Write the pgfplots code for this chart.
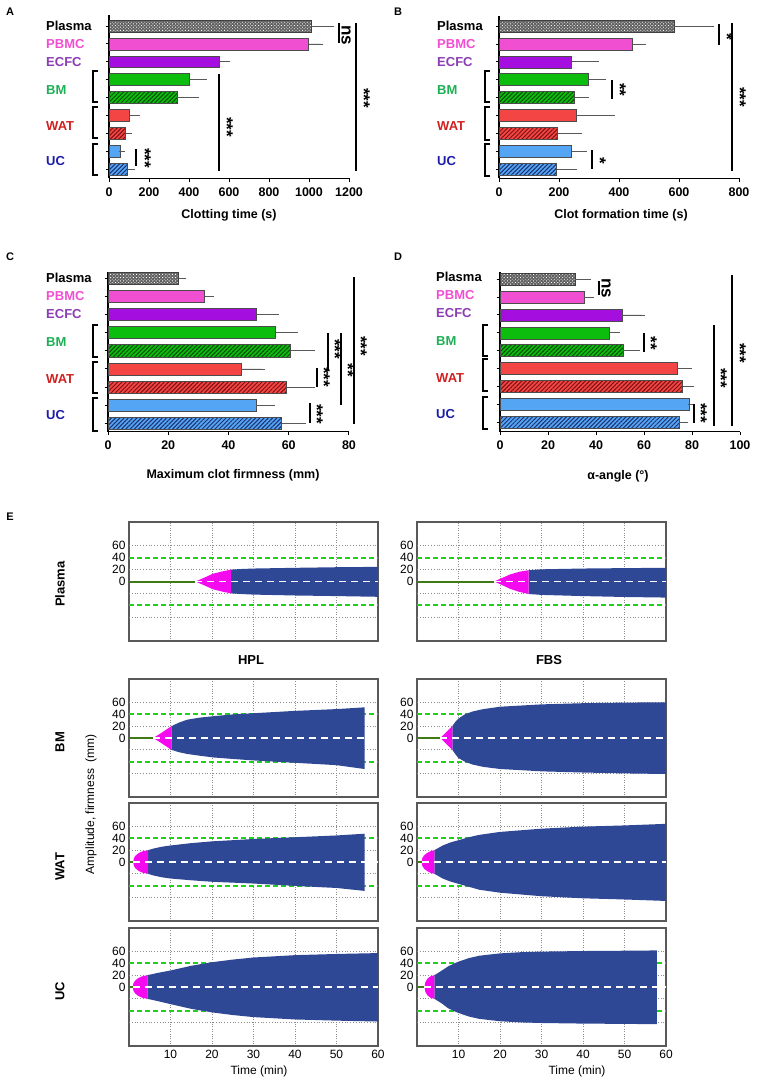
\documentclass[border=0pt]{standalone}
\usepackage{fontspec}
\setmainfont{Liberation Sans}
\usepackage{pgfplots}
\pgfplotsset{compat=1.18}
\usepackage{pgfplotstable}
\usetikzlibrary{patterns,patterns.meta}

\definecolor{cPBMC}{HTML}{F04FD2}
\definecolor{cECFC}{HTML}{A40FE0}
\definecolor{cBM}{HTML}{0DBD0D}
\definecolor{cBMd}{HTML}{0A4A0A}
\definecolor{cWAT}{HTML}{F44545}
\definecolor{cWATd}{HTML}{7A1010}
\definecolor{cUC}{HTML}{55A5F5}
\definecolor{cUCd}{HTML}{1B2F6E}
\definecolor{lPBMC}{HTML}{F04FD2}
\definecolor{lECFC}{HTML}{8B3DB5}
\definecolor{lBM}{HTML}{1EB054}
\definecolor{lWAT}{HTML}{D21F1F}
\definecolor{lUC}{HTML}{1C1CA8}
\definecolor{tegblue}{HTML}{2F4895}
\definecolor{tegmag}{HTML}{F50AF0}
\definecolor{teggreen}{HTML}{3F7A12}
\definecolor{gridgreen}{HTML}{1FD01F}

\newcommand{\lab}[1]{\fontsize{#1}{#1}\selectfont}

% bar data: p = row position (8 = Plasma at top), v = mean, e = error
\pgfplotstableread{
p v e
8 1012 100
7 998 59
6 553 39
5 400 73
4 342 95
3 102 40
2 82 16
1 58 9
0 93 20
}\tA
\pgfplotstableread{
p v e
8 584 124
7 445 36
6 242 80
5 299 46
4 250 39
3 259 118
2 195 71
1 242 42
0 192 58
}\tB
\pgfplotstableread{
p v e
8 23.5 1.4
7 32.1 2.0
6 49.3 6.4
5 55.7 6.3
4 60.6 7.2
3 44.1 6.9
2 59.3 8.5
1 49.1 5.4
0 57.6 7.0
}\tC
\pgfplotstableread{
p v e
8 31.4 5.3
7 35.0 2.8
6 50.8 8.4
5 45.7 3.1
4 51.4 5.5
3 73.9 4.7
2 76.1 3.3
1 78.8 0.9
0 74.6 2.6
}\tD

\pgfplotsset{
  b0/.style={fill=black!62, draw=black!75, line width=0.6pt, bar shift=0pt,
    postaction={pattern={Dots[distance=2.3pt,radius=0.6pt,angle=45]}, pattern color=white}},
  b1/.style={fill=cPBMC, draw=black!70, line width=0.6pt, bar shift=0pt},
  b2/.style={fill=cECFC, draw=black!70, line width=0.6pt, bar shift=0pt},
  b3/.style={fill=cBM, draw=black!70, line width=0.6pt, bar shift=0pt},
  b4/.style={fill=cBM, draw=black!70, line width=0.6pt, bar shift=0pt,
    postaction={pattern={Lines[angle=45,distance=3pt,line width=1pt]}, pattern color=cBMd}},
  b5/.style={fill=cWAT, draw=black!70, line width=0.6pt, bar shift=0pt},
  b6/.style={fill=cWAT, draw=black!70, line width=0.6pt, bar shift=0pt,
    postaction={pattern={Lines[angle=45,distance=3pt,line width=1pt]}, pattern color=cWATd}},
  b7/.style={fill=cUC, draw=black!70, line width=0.6pt, bar shift=0pt},
  b8/.style={fill=cUC, draw=black!70, line width=0.6pt, bar shift=0pt,
    postaction={pattern={Lines[angle=45,distance=3pt,line width=1pt]}, pattern color=cUCd}},
  barax/.style={
    scale only axis, anchor=south west, xbar, bar shift=0pt, bar width=0.67,
    ytick={0,...,8}, yticklabels={},
    axis x line*=bottom, axis y line*=left,
    axis line style={line width=1.2pt, black},
    tick align=outside, major tick length=3.5pt,
    tick style={line width=1pt, black},
    ticklabel style={font=\bfseries\lab{12.5}},
    xticklabel style={yshift=-2pt},
    /pgf/number format/assume math mode=true,
    /pgf/number format/1000 sep={},
    error bars/x dir=plus, error bars/x explicit,
    error bars/error bar style={black!65, line width=0.8pt},
    error bars/error mark options={black!65, line width=0.8pt, mark size=3pt},
  },
  teg/.style={
    scale only axis, anchor=south west, width=249pt, height=118pt,
    xmin=0, xmax=60, ymin=-100, ymax=100,
    xtick={10,20,...,60}, ytick={0,20,40,60},
    major tick length=0pt,
    axis line style={black!65, line width=1.2pt},
    xmajorgrids, grid style={black!45, dotted, line width=0.8pt},
    ticklabel style={font=\lab{12}},
    xticklabel style={yshift=-1pt},
    /pgf/number format/assume math mode=true,
  },
  nox/.style={xticklabels={}},
}

\newcommand{\bars}[1]{%
  \pgfplotsinvokeforeach{0,...,8}{%
    \addplot[b##1] table[x=v, y=p, x error=e,
      restrict expr to domain={\coordindex}{##1:##1}] {#1};}}

\newcommand{\grouplabels}[7]{%
  \node[anchor=west] at (#1,#2) {Plasma};
  \node[anchor=west,text=lPBMC] at (#1,#3) {PBMC};
  \node[anchor=west,text=lECFC] at (#1,#4) {ECFC};
  \node[anchor=west,text=lBM] at (#1,#5) {BM};
  \node[anchor=west,text=lWAT] at (#1,#6) {WAT};
  \node[anchor=west,text=lUC] at (#1,#7) {UC};}
\newcommand{\brk}[3]{\draw[line width=1.2pt] (#1+5,#2) -- (#1,#2) -- (#1,#3) -- (#1+5,#3);}
\newcommand{\sig}[6]{\draw[line width=1.3pt] (#1,#2) -- (#1,#3);
  \node[rotate=-90, font=\bfseries\lab{17}] at (#5,#6) {#4};}

\newcommand{\teggrid}{%
  \draw[black!45, dotted, line width=0.8pt] (0,60) -- (60,60) (0,20) -- (60,20)
    (0,-20) -- (60,-20) (0,-60) -- (60,-60);
  \draw[gridgreen, line width=1.9pt, dash pattern=on 5pt off 3pt]
    (0,40) -- (60,40) (0,-40) -- (60,-40);}
\newcommand{\tegtrace}[1]{%
  \draw[white, line width=1.3pt, dash pattern=on 7pt off 5pt] (#1,0) -- (60,0);
  \addplot[teggreen, line width=2pt] coordinates {(0,0) (#1,0)};}

\begin{document}
\begin{tikzpicture}
\path (0,0) rectangle (756pt,-1081pt);

% ---------- A ----------
\begin{axis}[barax, at={(109pt,-178.3pt)}, width=240pt, height=163.3pt,
  xmin=0, xmax=1200, xtick={0,200,...,1200}, ymin=-0.52, ymax=8.62]
\bars{\tA}
\end{axis}
% ---------- B ----------
\begin{axis}[barax, at={(499pt,-178.3pt)}, width=240pt, height=162.3pt,
  xmin=0, xmax=800, xtick={0,200,...,800}, ymin=-0.52, ymax=8.57]
\bars{\tB}
\end{axis}
% ---------- C ----------
\begin{axis}[barax, at={(108pt,-431.7pt)}, width=241pt, height=160pt,
  xmin=0, xmax=80, xtick={0,20,...,80}, ymin=-0.46, ymax=8.36]
\bars{\tC}
\end{axis}
% ---------- D ----------
\begin{axis}[barax, at={(500pt,-431.7pt)}, width=240pt, height=160pt,
  xmin=0, xmax=100, xtick={0,20,...,100}, ymin=-0.53, ymax=8.42]
\bars{\tD}
\end{axis}

% ---------- E : Plasma ----------
\begin{axis}[teg, nox, at={(129pt,-641pt)}, height=119pt]
\teggrid
\addplot[fill=tegblue, draw=none] coordinates {(24.6,20) (27,21) (30,21.8) (40,23) (50,24) (60,24.6)
  (60,-25.7) (50,-24.5) (40,-23.5) (30,-22) (27,-21) (24.6,-20)} -- cycle;
\addplot[fill=tegmag, draw=none] coordinates {(16,0) (18,6) (20.2,13) (22.5,17) (24.6,20)
  (24.6,-20) (22.5,-17) (20.2,-13) (18,-6)} -- cycle;
\tegtrace{16}
\end{axis}
\begin{axis}[teg, nox, at={(417pt,-641pt)}, height=119pt]
\teggrid
\addplot[fill=tegblue, draw=none] coordinates {(26.9,19) (30,20.5) (40,21.8) (50,22.5) (60,23)
  (60,-27) (50,-26) (40,-24.5) (30,-22.5) (26.9,-21)} -- cycle;
\addplot[fill=tegmag, draw=none] coordinates {(18.6,0) (20.5,6) (22.5,12) (24.7,16.5) (26.9,19)
  (26.9,-21) (24.7,-17.5) (22.5,-12.5) (20.5,-6)} -- cycle;
\tegtrace{18.6}
\end{axis}
% ---------- E : BM ----------
\begin{axis}[teg, nox, at={(129pt,-797pt)}]
\teggrid
\addplot[fill=tegblue, draw=none] coordinates {(10.2,20) (12,26) (14,31) (17,34.5) (20.4,37) (25,40)
  (30,42) (40,46) (50,49) (56.8,52) (56.8,-52.6) (50,-46) (40,-42) (30,-38) (25,-35.5)
  (20.4,-33) (17,-30) (14,-27) (12,-24) (10.2,-20)} -- cycle;
\addplot[fill=tegmag, draw=none] coordinates {(5.8,0) (7,5) (8.5,12) (10.2,20)
  (10.2,-20) (8.5,-12) (7,-5)} -- cycle;
\tegtrace{5.8}
\end{axis}
\begin{axis}[teg, nox, at={(417pt,-797pt)}]
\teggrid
\addplot[fill=tegblue, draw=none] coordinates {(8.5,20) (9.2,27) (10,33) (11.5,40) (13.4,45) (16,49)
  (20,53) (30,57) (40,59) (50,60) (60,60.6) (60,-61) (50,-60) (40,-58.5) (30,-56.5)
  (20,-52.5) (16,-49) (13.4,-45) (11.5,-40) (10,-34) (9.2,-27) (8.5,-20)} -- cycle;
\addplot[fill=tegmag, draw=none] coordinates {(5.6,0) (6.5,6) (7.5,13) (8.5,20)
  (8.5,-20) (7.5,-13) (6.5,-6)} -- cycle;
\tegtrace{5.6}
\end{axis}
% ---------- E : WAT ----------
\begin{axis}[teg, nox, at={(129pt,-921pt)}]
\teggrid
\addplot[fill=tegblue, draw=none] coordinates {(4.6,20) (6,23) (8,26) (10,28) (15,32) (20,35)
  (30,39) (40,42) (50,45) (56.8,48) (56.8,-49) (50,-44) (40,-40.5) (30,-36.5) (20,-33.5)
  (15,-31) (10,-28) (8,-26) (6,-23) (4.6,-20)} -- cycle;
\addplot[fill=tegmag, draw=none] coordinates {(1,0) (1.2,7) (1.6,11) (2.3,15) (3.2,18) (4.6,20)
  (4.6,-20) (3.2,-18) (2.3,-15) (1.6,-11) (1.2,-7)} -- cycle;
\tegtrace{1}
\end{axis}
\begin{axis}[teg, nox, at={(417pt,-921pt)}]
\teggrid
\addplot[fill=tegblue, draw=none] coordinates {(4.2,20) (6.2,28) (8,33) (10,37) (12.5,42) (15,46)
  (20,51) (30,56.5) (40,60) (50,62) (60,64.7) (60,-66) (50,-63.5) (40,-61.5) (30,-58)
  (20,-52) (15,-47) (12.5,-42) (10,-37) (8,-33) (6.2,-28) (4.2,-20)} -- cycle;
\addplot[fill=tegmag, draw=none] coordinates {(1.1,0) (1.3,7) (1.8,12) (2.6,16) (3.3,18.5) (4.2,20)
  (4.2,-20) (3.3,-18.5) (2.6,-16) (1.8,-12) (1.3,-7)} -- cycle;
\tegtrace{1.1}
\end{axis}
% ---------- E : UC ----------
\begin{axis}[teg, at={(129pt,-1046pt)}]
\teggrid
\addplot[fill=tegblue, draw=none] coordinates {(4.4,20) (7,24) (10,28) (15,36) (20,42) (25,46.5)
  (30,50) (40,54) (50,56) (60,57.5) (60,-58.5) (50,-57) (40,-55) (30,-51) (25,-47.5)
  (20,-43) (15,-37) (10,-29) (7,-24) (4.4,-20)} -- cycle;
\addplot[fill=tegmag, draw=none] coordinates {(0.9,0) (1.1,7) (1.5,11) (2.2,15) (3.1,18) (4.4,20)
  (4.4,-20) (3.1,-18) (2.2,-15) (1.5,-11) (1.1,-7)} -- cycle;
\tegtrace{0.9}
\end{axis}
\begin{axis}[teg, at={(417pt,-1046pt)}]
\teggrid
\addplot[fill=tegblue, draw=none] coordinates {(4.2,20) (6,28) (7.5,35) (9,40) (10,43) (12.5,49)
  (15,53) (20,57) (25,59) (30,60) (40,61) (50,61.5) (57.8,62) (57.8,-63) (50,-62.5) (40,-62)
  (30,-61) (25,-60) (20,-58) (15,-54) (12.5,-50) (10,-44) (9,-41) (7.5,-36) (6,-28) (4.2,-20)} -- cycle;
\addplot[fill=tegmag, draw=none] coordinates {(1.8,0) (2.0,8) (2.5,14) (3.2,18) (4.2,20)
  (4.2,-20) (3.2,-18) (2.5,-14) (2.0,-8)} -- cycle;
\tegtrace{1.8}
\end{axis}

% ---------- overlay text, brackets, significance ----------
\begin{scope}[x=1pt, y=-1pt, every node/.style={inner sep=0pt}]
  \begin{scope}[font=\bfseries\lab{11}]
    \node at (10,12) {A}; \node at (398,12) {B};
    \node at (10,257) {C}; \node at (398,257) {D};
    \node at (10,517) {E};
  \end{scope}
  \begin{scope}[font=\bfseries\lab{13}]
    \grouplabels{46}{26}{44}{62}{90}{126}{161}
    \grouplabels{437}{26}{44}{62}{90}{126}{161}
    \grouplabels{46}{278}{296}{314}{342}{379}{415}
    \grouplabels{436}{277}{295}{313}{341}{378}{414}
  \end{scope}
  \brk{93}{71}{102} \brk{93}{107}{138} \brk{93}{144}{175}
  \brk{485}{71}{102} \brk{485}{107}{140} \brk{485}{144}{176}
  \brk{93}{325}{357} \brk{93}{362}{393} \brk{93}{398}{431}
  \brk{483}{325}{356} \brk{483}{359}{391} \brk{483}{397}{429}
  % axis titles
  \begin{scope}[font=\bfseries\lab{12.5}]
    \node at (229,215) {Clotting time (s)};
    \node at (621,215) {Clot formation time (s)};
    \node at (233,475) {Maximum clot firmness (mm)};
    \node at (618,476) {α-angle (°)};
  \end{scope}
  % significance A
  \sig{339}{23}{43}{ns}{346}{35}
  \sig{356}{23}{171}{***}{364}{98}
  \sig{219}{74}{171}{***}{227}{127}
  \sig{136}{149}{166}{***}{145}{158}
  % significance B
  \sig{719}{24}{45}{*}{727}{37}
  \sig{612}{80}{99}{**}{620}{90}
  \sig{592}{150}{169}{*}{600}{161}
  \sig{732}{23}{171}{***}{740}{97}
  % significance C
  \sig{310}{403}{423}{***}{317}{414}
  \sig{317}{368}{387}{***}{324}{377}
  \sig{328}{333}{370}{***}{335}{349}
  \sig{341}{333}{405}{**}{348}{370}
  \sig{354}{277}{424}{***}{361}{346}
  % significance D
  \sig{599}{281}{295}{ns}{606}{288}
  \sig{644}{333}{352}{**}{651}{343}
  \sig{694}{404}{423}{***}{701}{413}
  \sig{714}{325}{426}{***}{721}{378}
  \sig{732}{275}{426}{***}{740}{353}
  % panel E labels
  \begin{scope}[font=\bfseries\lab{13}]
    \node at (251,660) {HPL}; \node at (549,660) {FBS};
    \node[rotate=90] at (60,584) {Plasma};
    \node[rotate=90] at (60,742) {BM};
    \node[rotate=90] at (60,867) {WAT};
    \node[rotate=90] at (60,991) {UC};
  \end{scope}
  \begin{scope}[font=\lab{12}]
    \node[rotate=90] at (91,804) {Amplitude, firmness~~(mm)};
    \node at (259,1071) {Time (min)};
    \node at (577,1071) {Time (min)};
  \end{scope}
\end{scope}
\end{tikzpicture}
\end{document}
